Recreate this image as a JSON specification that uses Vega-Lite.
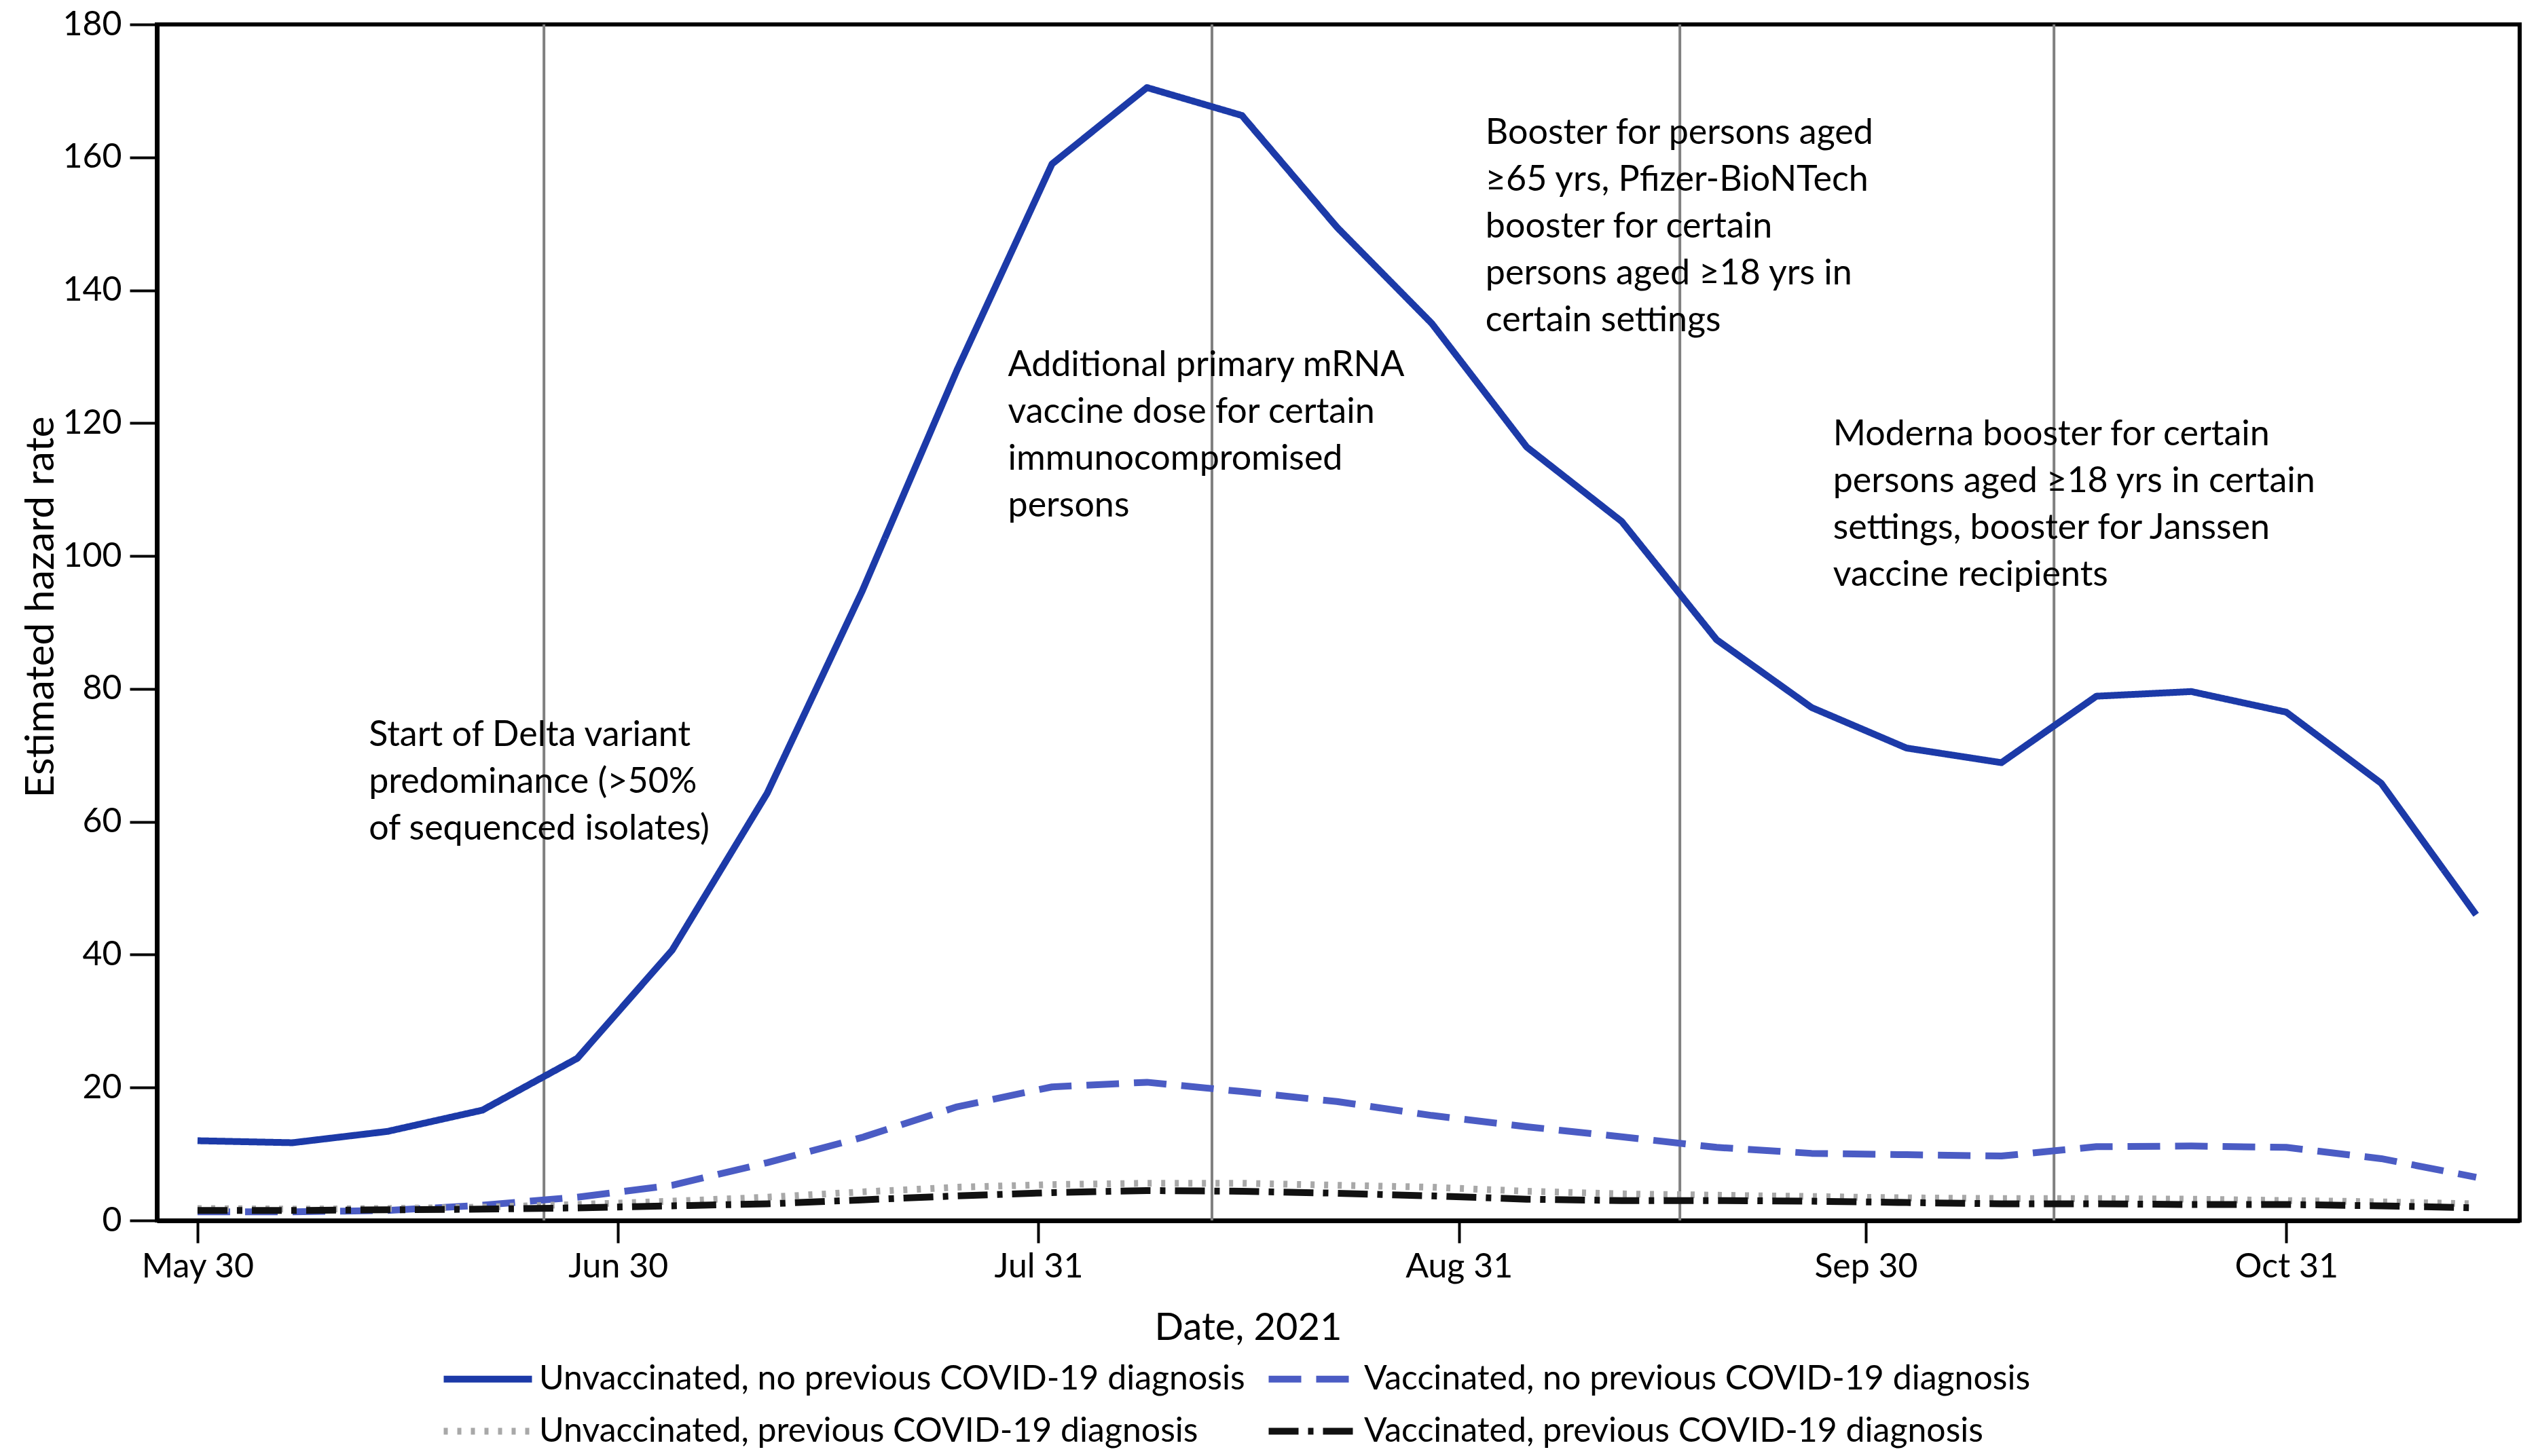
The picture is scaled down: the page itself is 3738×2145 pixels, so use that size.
{
  "$schema": "https://vega.github.io/schema/vega-lite/v6.json",
  "autosize": {"type": "none"},
  "width": 3480,
  "height": 1762,
  "padding": {"left": 231, "top": 36, "right": 27, "bottom": 347},
  "background": "white",
  "config": {
    "font": "Lato",
    "view": {"stroke": "black", "strokeWidth": 6},
    "axis": {"grid": false, "domainColor": "black", "tickColor": "black", "labelColor": "black", "titleColor": "black", "titleFontWeight": "normal", "labelFont": "Lato", "titleFont": "Lato"},
    "legend": {"labelFont": "Lato"}
  },
  "datasets": {
    "series": [
      {"date": "2021-05-30", "series": "Unvaccinated, no previous COVID-19 diagnosis", "value": 12.0},
      {"date": "2021-06-06", "series": "Unvaccinated, no previous COVID-19 diagnosis", "value": 11.7},
      {"date": "2021-06-13", "series": "Unvaccinated, no previous COVID-19 diagnosis", "value": 13.4},
      {"date": "2021-06-20", "series": "Unvaccinated, no previous COVID-19 diagnosis", "value": 16.6},
      {"date": "2021-06-27", "series": "Unvaccinated, no previous COVID-19 diagnosis", "value": 24.4},
      {"date": "2021-07-04", "series": "Unvaccinated, no previous COVID-19 diagnosis", "value": 40.7},
      {"date": "2021-07-11", "series": "Unvaccinated, no previous COVID-19 diagnosis", "value": 64.3},
      {"date": "2021-07-18", "series": "Unvaccinated, no previous COVID-19 diagnosis", "value": 94.7},
      {"date": "2021-07-25", "series": "Unvaccinated, no previous COVID-19 diagnosis", "value": 128.0},
      {"date": "2021-08-01", "series": "Unvaccinated, no previous COVID-19 diagnosis", "value": 159.0},
      {"date": "2021-08-08", "series": "Unvaccinated, no previous COVID-19 diagnosis", "value": 170.5},
      {"date": "2021-08-15", "series": "Unvaccinated, no previous COVID-19 diagnosis", "value": 166.3},
      {"date": "2021-08-22", "series": "Unvaccinated, no previous COVID-19 diagnosis", "value": 149.5},
      {"date": "2021-08-29", "series": "Unvaccinated, no previous COVID-19 diagnosis", "value": 135.0},
      {"date": "2021-09-05", "series": "Unvaccinated, no previous COVID-19 diagnosis", "value": 116.4},
      {"date": "2021-09-12", "series": "Unvaccinated, no previous COVID-19 diagnosis", "value": 105.2},
      {"date": "2021-09-19", "series": "Unvaccinated, no previous COVID-19 diagnosis", "value": 87.4},
      {"date": "2021-09-26", "series": "Unvaccinated, no previous COVID-19 diagnosis", "value": 77.2},
      {"date": "2021-10-03", "series": "Unvaccinated, no previous COVID-19 diagnosis", "value": 71.1},
      {"date": "2021-10-10", "series": "Unvaccinated, no previous COVID-19 diagnosis", "value": 68.9},
      {"date": "2021-10-17", "series": "Unvaccinated, no previous COVID-19 diagnosis", "value": 78.9},
      {"date": "2021-10-24", "series": "Unvaccinated, no previous COVID-19 diagnosis", "value": 79.6},
      {"date": "2021-10-31", "series": "Unvaccinated, no previous COVID-19 diagnosis", "value": 76.5},
      {"date": "2021-11-07", "series": "Unvaccinated, no previous COVID-19 diagnosis", "value": 65.8},
      {"date": "2021-11-14", "series": "Unvaccinated, no previous COVID-19 diagnosis", "value": 46.0},

      {"date": "2021-05-30", "series": "Vaccinated, no previous COVID-19 diagnosis", "value": 1.3},
      {"date": "2021-06-06", "series": "Vaccinated, no previous COVID-19 diagnosis", "value": 1.3},
      {"date": "2021-06-13", "series": "Vaccinated, no previous COVID-19 diagnosis", "value": 1.5},
      {"date": "2021-06-20", "series": "Vaccinated, no previous COVID-19 diagnosis", "value": 2.3},
      {"date": "2021-06-27", "series": "Vaccinated, no previous COVID-19 diagnosis", "value": 3.5},
      {"date": "2021-07-04", "series": "Vaccinated, no previous COVID-19 diagnosis", "value": 5.3},
      {"date": "2021-07-11", "series": "Vaccinated, no previous COVID-19 diagnosis", "value": 8.7},
      {"date": "2021-07-18", "series": "Vaccinated, no previous COVID-19 diagnosis", "value": 12.5},
      {"date": "2021-07-25", "series": "Vaccinated, no previous COVID-19 diagnosis", "value": 17.1},
      {"date": "2021-08-01", "series": "Vaccinated, no previous COVID-19 diagnosis", "value": 20.1},
      {"date": "2021-08-08", "series": "Vaccinated, no previous COVID-19 diagnosis", "value": 20.8},
      {"date": "2021-08-15", "series": "Vaccinated, no previous COVID-19 diagnosis", "value": 19.4},
      {"date": "2021-08-22", "series": "Vaccinated, no previous COVID-19 diagnosis", "value": 17.9},
      {"date": "2021-08-29", "series": "Vaccinated, no previous COVID-19 diagnosis", "value": 15.8},
      {"date": "2021-09-05", "series": "Vaccinated, no previous COVID-19 diagnosis", "value": 14.1},
      {"date": "2021-09-12", "series": "Vaccinated, no previous COVID-19 diagnosis", "value": 12.6},
      {"date": "2021-09-19", "series": "Vaccinated, no previous COVID-19 diagnosis", "value": 11.0},
      {"date": "2021-09-26", "series": "Vaccinated, no previous COVID-19 diagnosis", "value": 10.1},
      {"date": "2021-10-03", "series": "Vaccinated, no previous COVID-19 diagnosis", "value": 9.9},
      {"date": "2021-10-10", "series": "Vaccinated, no previous COVID-19 diagnosis", "value": 9.7},
      {"date": "2021-10-17", "series": "Vaccinated, no previous COVID-19 diagnosis", "value": 11.1},
      {"date": "2021-10-24", "series": "Vaccinated, no previous COVID-19 diagnosis", "value": 11.2},
      {"date": "2021-10-31", "series": "Vaccinated, no previous COVID-19 diagnosis", "value": 11.0},
      {"date": "2021-11-07", "series": "Vaccinated, no previous COVID-19 diagnosis", "value": 9.3},
      {"date": "2021-11-14", "series": "Vaccinated, no previous COVID-19 diagnosis", "value": 6.5},

      {"date": "2021-05-30", "series": "Unvaccinated, previous COVID-19 diagnosis", "value": 1.8},
      {"date": "2021-06-06", "series": "Unvaccinated, previous COVID-19 diagnosis", "value": 1.7},
      {"date": "2021-06-13", "series": "Unvaccinated, previous COVID-19 diagnosis", "value": 1.8},
      {"date": "2021-06-20", "series": "Unvaccinated, previous COVID-19 diagnosis", "value": 2.0},
      {"date": "2021-06-27", "series": "Unvaccinated, previous COVID-19 diagnosis", "value": 2.4},
      {"date": "2021-07-04", "series": "Unvaccinated, previous COVID-19 diagnosis", "value": 2.9},
      {"date": "2021-07-11", "series": "Unvaccinated, previous COVID-19 diagnosis", "value": 3.5},
      {"date": "2021-07-18", "series": "Unvaccinated, previous COVID-19 diagnosis", "value": 4.3},
      {"date": "2021-07-25", "series": "Unvaccinated, previous COVID-19 diagnosis", "value": 5.0},
      {"date": "2021-08-01", "series": "Unvaccinated, previous COVID-19 diagnosis", "value": 5.4},
      {"date": "2021-08-08", "series": "Unvaccinated, previous COVID-19 diagnosis", "value": 5.6},
      {"date": "2021-08-15", "series": "Unvaccinated, previous COVID-19 diagnosis", "value": 5.6},
      {"date": "2021-08-22", "series": "Unvaccinated, previous COVID-19 diagnosis", "value": 5.3},
      {"date": "2021-08-29", "series": "Unvaccinated, previous COVID-19 diagnosis", "value": 5.0},
      {"date": "2021-09-05", "series": "Unvaccinated, previous COVID-19 diagnosis", "value": 4.4},
      {"date": "2021-09-12", "series": "Unvaccinated, previous COVID-19 diagnosis", "value": 4.0},
      {"date": "2021-09-19", "series": "Unvaccinated, previous COVID-19 diagnosis", "value": 3.8},
      {"date": "2021-09-26", "series": "Unvaccinated, previous COVID-19 diagnosis", "value": 3.6},
      {"date": "2021-10-03", "series": "Unvaccinated, previous COVID-19 diagnosis", "value": 3.4},
      {"date": "2021-10-10", "series": "Unvaccinated, previous COVID-19 diagnosis", "value": 3.3},
      {"date": "2021-10-17", "series": "Unvaccinated, previous COVID-19 diagnosis", "value": 3.3},
      {"date": "2021-10-24", "series": "Unvaccinated, previous COVID-19 diagnosis", "value": 3.2},
      {"date": "2021-10-31", "series": "Unvaccinated, previous COVID-19 diagnosis", "value": 3.0},
      {"date": "2021-11-07", "series": "Unvaccinated, previous COVID-19 diagnosis", "value": 2.8},
      {"date": "2021-11-14", "series": "Unvaccinated, previous COVID-19 diagnosis", "value": 2.5},

      {"date": "2021-05-30", "series": "Vaccinated, previous COVID-19 diagnosis", "value": 1.5},
      {"date": "2021-06-06", "series": "Vaccinated, previous COVID-19 diagnosis", "value": 1.5},
      {"date": "2021-06-13", "series": "Vaccinated, previous COVID-19 diagnosis", "value": 1.6},
      {"date": "2021-06-20", "series": "Vaccinated, previous COVID-19 diagnosis", "value": 1.7},
      {"date": "2021-06-27", "series": "Vaccinated, previous COVID-19 diagnosis", "value": 1.9},
      {"date": "2021-07-04", "series": "Vaccinated, previous COVID-19 diagnosis", "value": 2.2},
      {"date": "2021-07-11", "series": "Vaccinated, previous COVID-19 diagnosis", "value": 2.5},
      {"date": "2021-07-18", "series": "Vaccinated, previous COVID-19 diagnosis", "value": 3.1},
      {"date": "2021-07-25", "series": "Vaccinated, previous COVID-19 diagnosis", "value": 3.7},
      {"date": "2021-08-01", "series": "Vaccinated, previous COVID-19 diagnosis", "value": 4.2},
      {"date": "2021-08-08", "series": "Vaccinated, previous COVID-19 diagnosis", "value": 4.5},
      {"date": "2021-08-15", "series": "Vaccinated, previous COVID-19 diagnosis", "value": 4.4},
      {"date": "2021-08-22", "series": "Vaccinated, previous COVID-19 diagnosis", "value": 4.1},
      {"date": "2021-08-29", "series": "Vaccinated, previous COVID-19 diagnosis", "value": 3.7},
      {"date": "2021-09-05", "series": "Vaccinated, previous COVID-19 diagnosis", "value": 3.2},
      {"date": "2021-09-12", "series": "Vaccinated, previous COVID-19 diagnosis", "value": 3.0},
      {"date": "2021-09-19", "series": "Vaccinated, previous COVID-19 diagnosis", "value": 3.0},
      {"date": "2021-09-26", "series": "Vaccinated, previous COVID-19 diagnosis", "value": 2.9},
      {"date": "2021-10-03", "series": "Vaccinated, previous COVID-19 diagnosis", "value": 2.7},
      {"date": "2021-10-10", "series": "Vaccinated, previous COVID-19 diagnosis", "value": 2.5},
      {"date": "2021-10-17", "series": "Vaccinated, previous COVID-19 diagnosis", "value": 2.5},
      {"date": "2021-10-24", "series": "Vaccinated, previous COVID-19 diagnosis", "value": 2.4},
      {"date": "2021-10-31", "series": "Vaccinated, previous COVID-19 diagnosis", "value": 2.4},
      {"date": "2021-11-07", "series": "Vaccinated, previous COVID-19 diagnosis", "value": 2.2},
      {"date": "2021-11-14", "series": "Vaccinated, previous COVID-19 diagnosis", "value": 1.9}
    ],
    "events": [
      {"date": "2021-06-24T13:00:00Z"},
      {"date": "2021-08-12T19:00:00Z"},
      {"date": "2021-09-16T07:00:00Z"},
      {"date": "2021-10-13T21:00:00Z"}
    ],
    "notes": [
      {"date": "2021-06-11T15:00:00Z", "value": 75.6, "lines": ["Start of Delta variant", "predominance (>50%", "of sequenced isolates)"]},
      {"date": "2021-07-28T18:00:00Z", "value": 131.3, "lines": ["Additional primary mRNA", "vaccine dose for certain", "immunocompromised", "persons"]},
      {"date": "2021-09-01T23:00:00Z", "value": 166.2, "lines": ["Booster for persons aged", "≥65 yrs, Pfizer-BioNTech", "booster for certain", "persons aged ≥18 yrs in", "certain settings"]},
      {"date": "2021-09-27T14:00:00Z", "value": 120.9, "lines": ["Moderna booster for certain", "persons aged ≥18 yrs in certain", "settings, booster for Janssen", "vaccine recipients"]}
    ]
  },
  "encoding": {
    "x": {
      "field": "date", "type": "temporal",
      "scale": {"type": "utc", "domain": [{"year": 2021, "month": 5, "date": 27, "utc": true}, {"year": 2021, "month": 11, "date": 17, "hours": 5, "utc": true}]},
      "axis": {
        "title": "Date, 2021",
        "values": [
          {"year": 2021, "month": 5, "date": 30, "utc": true},
          {"year": 2021, "month": 6, "date": 30, "utc": true},
          {"year": 2021, "month": 7, "date": 31, "utc": true},
          {"year": 2021, "month": 8, "date": 31, "utc": true},
          {"year": 2021, "month": 9, "date": 30, "utc": true},
          {"year": 2021, "month": 10, "date": 31, "utc": true}
        ],
        "labelExpr": "utcFormat(datum.value, '%b %d')",
        "labelFontSize": 50, "labelPadding": 10, "labelFlush": false,
        "tickSize": 33, "tickWidth": 4, "domainWidth": 7,
        "titleFontSize": 56, "titleX": 1607, "titleY": 158, "titleBaseline": "middle", "titleAlign": "center", "titleAnchor": null
      }
    }
  },
  "layer": [
    {
      "data": {"name": "events"},
      "mark": {"type": "rule", "color": "#808080", "strokeWidth": 4},
      "encoding": {}
    },
    {
      "data": {"name": "series"},
      "mark": {"type": "line", "strokeCap": "butt", "strokeJoin": "round"},
      "encoding": {
        "y": {
          "field": "value", "type": "quantitative",
          "scale": {"domain": [0, 180], "nice": false, "zero": true},
          "axis": {
            "title": "Estimated hazard rate", "values": [0, 20, 40, 60, 80, 100, 120, 140, 160, 180],
            "labelFontSize": 50, "labelPadding": 12, "tickSize": 40, "tickWidth": 4, "domainWidth": 7,
            "titleFontSize": 59, "titleX": -171, "titleY": 858, "titleBaseline": "middle", "titleAlign": "center", "titleAnchor": null, "titleAngle": -90
          }
        },
        "color": {
          "field": "series", "type": "nominal",
          "scale": {
            "domain": ["Unvaccinated, no previous COVID-19 diagnosis", "Vaccinated, no previous COVID-19 diagnosis", "Unvaccinated, previous COVID-19 diagnosis", "Vaccinated, previous COVID-19 diagnosis"],
            "range": ["#1c3aa8", "#4b5cc4", "#a8a8a8", "#111111"]
          },
          "legend": {
            "title": null, "orient": "none", "legendX": 450, "legendY": 1958, "columns": 2, "direction": "horizontal",
            "labelFontSize": 50, "labelColor": "black", "labelOffset": 38, "labelLimit": 0, "symbolType": "M-2,0H2", "symbolSize": 4225,
            "symbolFillColor": "transparent",
            "rowPadding": 14, "columnPadding": 14, "padding": 0
          }
        },
        "strokeDash": {
          "field": "series", "type": "nominal",
          "scale": {
            "domain": ["Unvaccinated, no previous COVID-19 diagnosis", "Vaccinated, no previous COVID-19 diagnosis", "Unvaccinated, previous COVID-19 diagnosis", "Vaccinated, previous COVID-19 diagnosis"],
            "range": [[1, 0], [48, 22], [6, 14], [44, 14, 8, 14]]
          }
        },
        "strokeWidth": {
          "field": "series", "type": "nominal",
          "scale": {
            "domain": ["Unvaccinated, no previous COVID-19 diagnosis", "Vaccinated, no previous COVID-19 diagnosis", "Unvaccinated, previous COVID-19 diagnosis", "Vaccinated, previous COVID-19 diagnosis"],
            "range": [10, 10, 4, 6]
          }
        }
      }
    },
    {
      "data": {"name": "notes"},
      "mark": {"type": "text", "align": "left", "baseline": "top", "fontSize": 52, "lineHeight": 69, "color": "black", "font": "Lato"},
      "encoding": {
        "y": {"field": "value", "type": "quantitative"},
        "text": {"field": "lines"}
      }
    }
  ]
}
